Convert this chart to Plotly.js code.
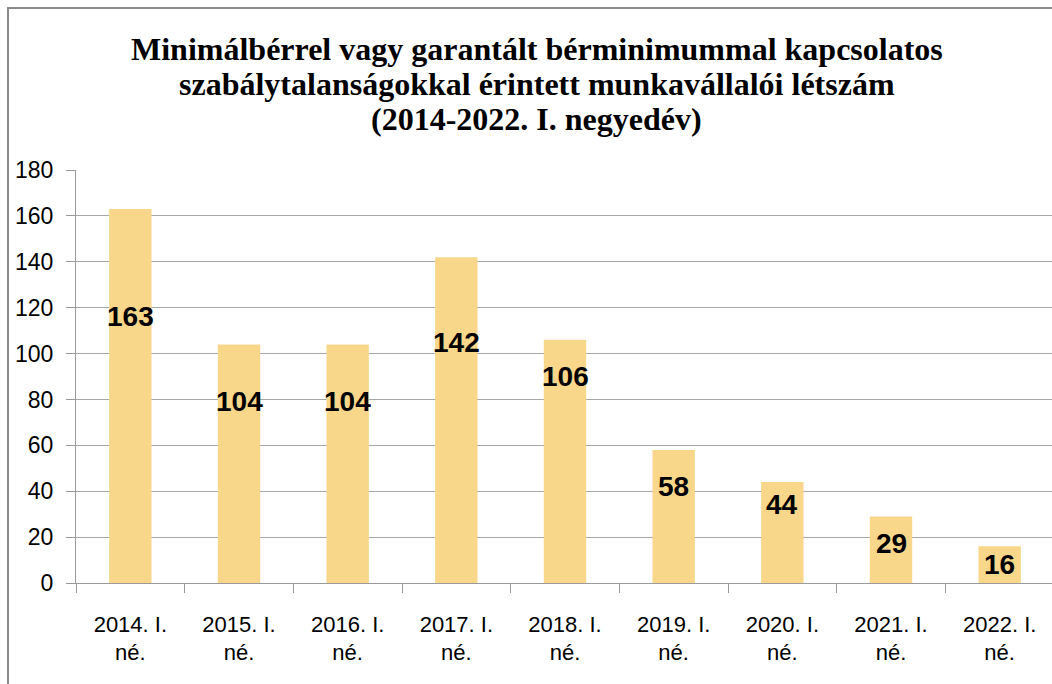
<!DOCTYPE html>
<html>
<head>
<meta charset="utf-8">
<script src="https://cdn.plot.ly/plotly-3.0.1.min.js"></script>
<style>
  html, body { margin: 0; padding: 0; width: 1052px; height: 684px; overflow: hidden; background: #fff; }
  #frame { position: absolute; left: 7px; top: 7px; width: 1100px; height: 760px; border: 2px solid #8c8c8c; background: #fff; }
  #chart { position: absolute; left: 0; top: 0; }
</style>
</head>
<body>
<div id="frame"><div id="chart"></div></div>
<script>
// Data
const categories = ["2014. I.<br>né.", "2015. I.<br>né.", "2016. I.<br>né.", "2017. I.<br>né.", "2018. I.<br>né.", "2019. I.<br>né.", "2020. I.<br>né.", "2021. I.<br>né.", "2022. I.<br>né."];
const values = [163, 104, 104, 142, 106, 58, 44, 29, 16];
// where each value label sits (in axis units), as placed in the original
const labelY = [116, 79, 79, 105, 90, 42, 34, 17, 8];
const yTicks = [0, 20, 40, 60, 80, 100, 120, 140, 160, 180];

const titleLines = [
  "Minimálbérrel vagy garantált bérminimummal kapcsolatos",
  "szabálytalanságokkal érintett munkavállalói létszám",
  "(2014-2022. I. negyedév)"
];

const trace = {
  type: "bar",
  x: categories,
  y: values,
  width: 0.39,
  marker: { color: "#F9D78A", line: { width: 0 } },
  hoverinfo: "x+y"
};

const labelAnnotations = values.map((v, i) => ({
  x: categories[i],
  y: labelY[i],
  xref: "x", yref: "y",
  text: String(v),
  showarrow: false,
  font: { family: "Liberation Sans, Arial, sans-serif", size: 28, color: "#000", weight: "bold" },
  xanchor: "center", yanchor: "middle"
}));

// title lines, tight line spacing as in the original
const titleYs = [1.293, 1.208, 1.1235];
const titleAnnotations = titleLines.map((t, i) => ({
  x: 0.471, y: titleYs[i],
  xref: "paper", yref: "paper",
  text: t,
  showarrow: false,
  font: { family: "Liberation Serif, Times New Roman, serif", size: 32, color: "#000", weight: "bold" },
  xanchor: "center", yanchor: "middle"
}));

const layout = {
  width: 1070,
  height: 700,
  margin: { l: 67, r: 25, t: 161, b: 126 },
  paper_bgcolor: "rgba(0,0,0,0)",
  plot_bgcolor: "#fff",
  showlegend: false,
  xaxis: {
    type: "category",
    tickvals: categories,
    ticktext: categories,
    showgrid: false,
    showline: true,
    linecolor: "#9a9a9a",
    linewidth: 1.3,
    ticks: "outside",
    tickson: "boundaries",
    ticklen: 9,
    tickcolor: "#9a9a9a",
    tickwidth: 1.3,
    ticklabelstandoff: 21,
    tickfont: { family: "Liberation Sans, Arial, sans-serif", size: 22, color: "#000" },
    range: [-0.5, 8.5],
    fixedrange: true
  },
  yaxis: {
    range: [0, 180],
    tickvals: yTicks,
    ticktext: yTicks.map(String),
    showgrid: true,
    gridcolor: "#a6a6a6",
    gridwidth: 1.3,
    zeroline: false,
    showline: true,
    linecolor: "#9a9a9a",
    linewidth: 1.3,
    ticks: "outside",
    ticklen: 9,
    tickcolor: "#9a9a9a",
    tickwidth: 1.3,
    ticklabelstandoff: 8,
    tickfont: { family: "Liberation Sans, Arial, sans-serif", size: 23, color: "#000" },
    fixedrange: true
  },
  annotations: titleAnnotations.concat(labelAnnotations)
};

Plotly.newPlot("chart", [trace], layout, { displayModeBar: false, staticPlot: false });
</script>
</body>
</html>
